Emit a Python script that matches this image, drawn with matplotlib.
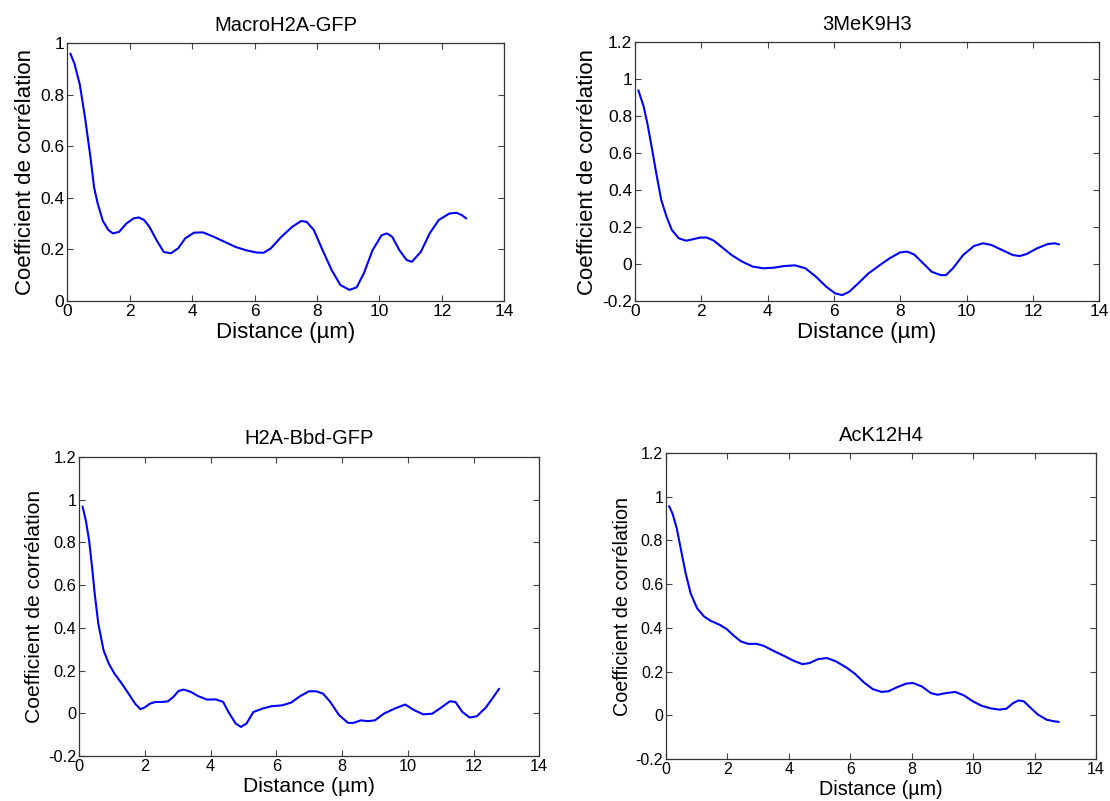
import numpy as np
import matplotlib
matplotlib.use("Agg")
import matplotlib.pyplot as plt

plt.rcParams["font.family"] = ["Liberation Sans", "DejaVu Sans"]

# --- Daten --------------------------------------------------------------------
titles = ["MacroH2A-GFP", "3MeK9H3", "H2A-Bbd-GFP", "AcK12H4"]

x_macro = [0.1, 0.23, 0.4, 0.57, 0.74, 0.86, 0.97, 1.14, 1.32, 1.46, 1.66, 1.89, 2.12, 2.29,
           2.46, 2.63, 2.86, 3.09, 3.32, 3.55, 3.78, 4.06, 4.35, 4.69, 5.03, 5.38, 5.72, 6.06,
           6.29, 6.52, 6.86, 7.21, 7.49, 7.67, 7.9, 8.18, 8.47, 8.75, 9.04, 9.27, 9.5, 9.78,
           10.07, 10.24, 10.41, 10.64, 10.87, 11.04, 11.33, 11.61, 11.9, 12.24, 12.47, 12.64, 12.78]
y_macro = [0.959, 0.92, 0.84, 0.71, 0.56, 0.44, 0.38, 0.31, 0.275, 0.262, 0.268, 0.30, 0.32, 0.324,
           0.314, 0.288, 0.236, 0.19, 0.185, 0.204, 0.243, 0.265, 0.266, 0.249, 0.23, 0.21, 0.197, 0.188,
           0.187, 0.204, 0.249, 0.288, 0.31, 0.307, 0.275, 0.197, 0.12, 0.062, 0.043, 0.053, 0.107, 0.197,
           0.255, 0.262, 0.249, 0.197, 0.159, 0.152, 0.191, 0.262, 0.314, 0.339, 0.342, 0.333, 0.32]

x_mek9 = [0.1, 0.16, 0.26, 0.37, 0.5, 0.64, 0.79, 0.95, 1.11, 1.32, 1.54, 1.75, 1.96, 2.17, 2.38,
          2.6, 2.91, 3.23, 3.55, 3.87, 4.18, 4.5, 4.82, 5.14, 5.46, 5.77, 6.04, 6.25, 6.46, 6.73,
          7.04, 7.36, 7.68, 8.0, 8.21, 8.42, 8.69, 8.95, 9.22, 9.38, 9.59, 9.9, 10.22, 10.49, 10.75,
          11.07, 11.39, 11.6, 11.81, 12.13, 12.45, 12.66, 12.79]
y_mek9 = [0.939, 0.906, 0.852, 0.762, 0.635, 0.491, 0.347, 0.256, 0.184, 0.139, 0.126, 0.134, 0.143,
          0.143, 0.126, 0.094, 0.049, 0.013, -0.014, -0.023, -0.020, -0.011, -0.007, -0.023, -0.069,
          -0.123, -0.159, -0.168, -0.150, -0.105, -0.051, -0.009, 0.031, 0.063, 0.067, 0.052, 0.004,
          -0.042, -0.06, -0.06, -0.023, 0.049, 0.097, 0.112, 0.103, 0.076, 0.049, 0.043, 0.054, 0.085,
          0.108, 0.112, 0.106]

x_bbd = [0.1, 0.2, 0.3, 0.39, 0.47, 0.58, 0.74, 0.9, 1.07, 1.28, 1.5, 1.7, 1.86, 1.99, 2.15, 2.32,
         2.53, 2.7, 2.86, 3.02, 3.18, 3.4, 3.62, 3.89, 4.16, 4.38, 4.54, 4.76, 4.92, 5.09, 5.3, 5.58,
         5.85, 6.17, 6.45, 6.72, 6.99, 7.21, 7.42, 7.64, 7.91, 8.18, 8.35, 8.57, 8.78, 9.0, 9.27, 9.6,
         9.92, 10.2, 10.47, 10.74, 11.01, 11.28, 11.45, 11.66, 11.88, 12.1, 12.37, 12.64, 12.78]
y_bbd = [0.968, 0.903, 0.809, 0.684, 0.560, 0.419, 0.295, 0.232, 0.186, 0.142, 0.092, 0.045, 0.019,
         0.027, 0.045, 0.053, 0.053, 0.056, 0.076, 0.104, 0.111, 0.1, 0.08, 0.064, 0.065, 0.053, 0.006,
         -0.048, -0.064, -0.048, 0.006, 0.022, 0.033, 0.037, 0.05, 0.08, 0.103, 0.103, 0.092, 0.053,
         -0.009, -0.045, -0.045, -0.033, -0.037, -0.033, -0.002, 0.022, 0.041, 0.014, -0.005, -0.002,
         0.026, 0.056, 0.053, 0.006, -0.02, -0.014, 0.026, 0.084, 0.115]

x_ack12 = [0.1, 0.21, 0.35, 0.49, 0.64, 0.8, 1.01, 1.24, 1.46, 1.75, 1.98, 2.21, 2.44, 2.67, 2.95,
           3.18, 3.47, 3.81, 4.15, 4.44, 4.67, 4.95, 5.24, 5.53, 5.87, 6.16, 6.44, 6.73, 7.02, 7.24,
           7.53, 7.82, 8.04, 8.33, 8.62, 8.84, 9.13, 9.42, 9.7, 9.99, 10.27, 10.56, 10.85, 11.08,
           11.3, 11.48, 11.65, 11.88, 12.11, 12.39, 12.62, 12.79]
y_ack12 = [0.957, 0.924, 0.855, 0.756, 0.650, 0.559, 0.490, 0.452, 0.432, 0.414, 0.394, 0.364, 0.338,
           0.327, 0.327, 0.318, 0.297, 0.274, 0.250, 0.234, 0.239, 0.257, 0.262, 0.247, 0.219, 0.189,
           0.151, 0.120, 0.107, 0.110, 0.129, 0.145, 0.148, 0.132, 0.102, 0.094, 0.102, 0.107, 0.091,
           0.064, 0.044, 0.032, 0.026, 0.030, 0.056, 0.068, 0.064, 0.033, 0.003, -0.020, -0.027, -0.030]

xticks = [0, 2, 4, 6, 8, 10, 12, 14]
yticks_a = [0, 0.2, 0.4, 0.6, 0.8, 1]
ylabels_a = ["0", "0.2", "0.4", "0.6", "0.8", "1"]
yticks_b = [-0.2, 0, 0.2, 0.4, 0.6, 0.8, 1, 1.2]
ylabels_b = ["-0.2", "0", "0.2", "0.4", "0.6", "0.8", "1", "1.2"]

series = [(x_macro, y_macro), (x_mek9, y_mek9), (x_bbd, y_bbd), (x_ack12, y_ack12)]

# Achsenpositionen (wie im Original leicht unterschiedlich)
positions = [
    [0.0606, 0.6242, 0.3937, 0.3221],
    [0.5721, 0.6242, 0.4181, 0.3233],
    [0.0714, 0.0562, 0.4144, 0.3733],
    [0.6000, 0.0524, 0.3874, 0.3820],
]
tick_fs = [12.5, 12.5, 11.8, 11.5]
lab_fs = [16, 16, 15.2, 14.2]
title_fs = [14.5, 14.5, 14.5, 14.5]

fig = plt.figure(figsize=(11.10, 8.01), dpi=100)

for i, ((xs, ys), pos) in enumerate(zip(series, positions)):
    ax = fig.add_axes(pos)
    ax.plot(xs, ys, color="#0000ff", lw=1.5,
            solid_joinstyle="round", solid_capstyle="round")
    ax.set_xlim(0, 14)
    ax.set_xticks(xticks)
    ax.set_xticklabels([str(t) for t in xticks])
    if i == 0:
        ax.set_ylim(0, 1)
        ax.set_yticks(yticks_a)
        ax.set_yticklabels(ylabels_a)
    else:
        ax.set_ylim(-0.2, 1.2)
        ax.set_yticks(yticks_b)
        ax.set_yticklabels(ylabels_b)
    ax.tick_params(direction="in", top=True, right=True, length=4, width=0.8,
                   labelsize=tick_fs[i], pad=2, color="#444444")
    for sp in ax.spines.values():
        sp.set_linewidth(0.9)
        sp.set_color("#333333")
    ax.set_title(titles[i], fontsize=title_fs[i], pad=9)
    ax.set_xlabel("Distance (µm)", fontsize=lab_fs[i], labelpad=2)
    ax.set_ylabel("Coefficient de corrélation", fontsize=lab_fs[i], labelpad=3)

fig.savefig("out.png", dpi=100)
plt.close(fig)
